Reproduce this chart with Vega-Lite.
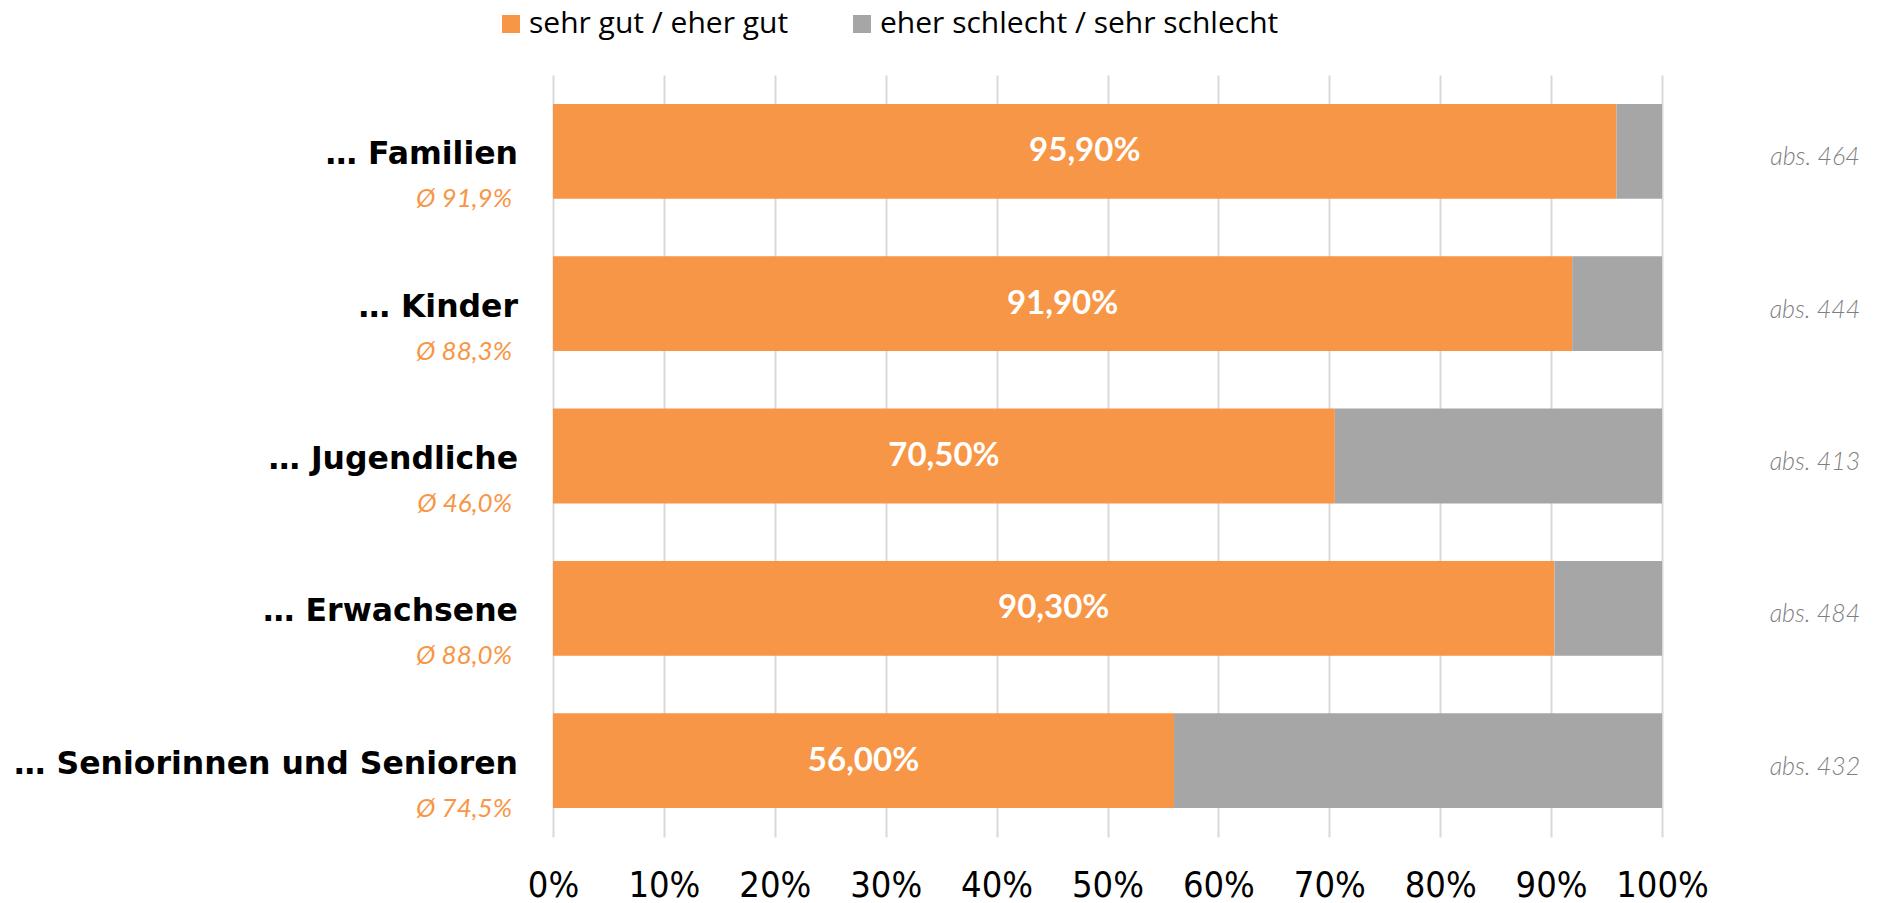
{
  "$schema": "https://vega.github.io/schema/vega-lite/v6.json",
  "width": 1109,
  "height": 762,
  "autosize": {"type": "none"},
  "padding": {"left": 553, "top": 75, "right": 227, "bottom": 66},
  "background": "white",
  "config": {
    "view": {"stroke": null},
    "locale": {"number": {"decimal": ",", "thousands": ".", "grouping": [3], "currency": ["", " €"]}}
  },
  "datasets": {
    "bars": [
      {"cat": "… Familien", "group": "sehr gut / eher gut", "ord": 1, "value": 0.959},
      {"cat": "… Familien", "group": "eher schlecht / sehr schlecht", "ord": 2, "value": 0.041},
      {"cat": "… Kinder", "group": "sehr gut / eher gut", "ord": 1, "value": 0.919},
      {"cat": "… Kinder", "group": "eher schlecht / sehr schlecht", "ord": 2, "value": 0.081},
      {"cat": "… Jugendliche", "group": "sehr gut / eher gut", "ord": 1, "value": 0.705},
      {"cat": "… Jugendliche", "group": "eher schlecht / sehr schlecht", "ord": 2, "value": 0.295},
      {"cat": "… Erwachsene", "group": "sehr gut / eher gut", "ord": 1, "value": 0.903},
      {"cat": "… Erwachsene", "group": "eher schlecht / sehr schlecht", "ord": 2, "value": 0.097},
      {"cat": "… Seniorinnen und Senioren", "group": "sehr gut / eher gut", "ord": 1, "value": 0.56},
      {"cat": "… Seniorinnen und Senioren", "group": "eher schlecht / sehr schlecht", "ord": 2, "value": 0.44}
    ],
    "cats": [
      {"cat": "… Familien", "good": 0.959, "avg": 0.919, "n": 464},
      {"cat": "… Kinder", "good": 0.919, "avg": 0.883, "n": 444},
      {"cat": "… Jugendliche", "good": 0.705, "avg": 0.46, "n": 413},
      {"cat": "… Erwachsene", "good": 0.903, "avg": 0.88, "n": 484},
      {"cat": "… Seniorinnen und Senioren", "good": 0.56, "avg": 0.745, "n": 432}
    ]
  },
  "layer": [
    {
      "data": {"name": "bars"},
      "mark": {"type": "bar"},
      "encoding": {
        "y": {
          "field": "cat", "type": "nominal",
          "sort": ["… Familien", "… Kinder", "… Jugendliche", "… Erwachsene", "… Seniorinnen und Senioren"],
          "scale": {"paddingInner": 0.378, "paddingOuter": 0.19},
          "axis": null
        },
        "x": {
          "field": "value", "type": "quantitative", "stack": "zero",
          "scale": {"domain": [0, 1], "nice": false},
          "axis": {
            "title": null, "format": ".0%",
            "values": [0, 0.1, 0.2, 0.3, 0.4, 0.5, 0.6, 0.7, 0.8, 0.9, 1],
            "grid": true, "gridColor": "#D9D9D9", "gridWidth": 2,
            "domain": false, "ticks": false, "labelFlush": false,
            "labelFont": "Liberation Sans Narrow, DejaVu Sans Condensed, sans-serif",
            "labelFontSize": 36, "labelColor": "#000000", "labelPadding": 31
          }
        },
        "color": {
          "field": "group", "type": "nominal",
          "scale": {"domain": ["sehr gut / eher gut", "eher schlecht / sehr schlecht"], "range": ["#F79646", "#A6A6A6"]},
          "legend": {
            "orient": "none", "legendX": -57, "legendY": -66, "direction": "horizontal",
            "title": null, "symbolType": "square", "symbolSize": 324, "symbolStrokeWidth": 0,
            "labelFont": "Open Sans", "labelFontSize": 30, "labelColor": "#000000",
            "labelOffset": 3, "columnPadding": 58, "labelLimit": 600
          }
        },
        "order": {"field": "ord", "type": "quantitative"}
      }
    },
    {
      "data": {"name": "cats"},
      "transform": [{"calculate": "datum.good / 2", "as": "mid"}],
      "mark": {"type": "text", "color": "#FFFFFF", "font": "Lato", "fontWeight": "bold", "fontSize": 33, "align": "center", "baseline": "middle"},
      "encoding": {
        "y": {"field": "cat", "type": "nominal", "sort": ["… Familien", "… Kinder", "… Jugendliche", "… Erwachsene", "… Seniorinnen und Senioren"]},
        "x": {"field": "mid", "type": "quantitative"},
        "text": {"field": "good", "type": "quantitative", "format": ".2%"}
      }
    },
    {
      "data": {"name": "cats"},
      "mark": {"type": "text", "color": "#000000", "font": "DejaVu Sans", "fontWeight": "bold", "fontSize": 31.5, "align": "right", "baseline": "alphabetic", "dx": -35, "dy": 13},
      "encoding": {
        "y": {"field": "cat", "type": "nominal", "sort": ["… Familien", "… Kinder", "… Jugendliche", "… Erwachsene", "… Seniorinnen und Senioren"]},
        "x": {"datum": 0, "type": "quantitative"},
        "text": {"field": "cat", "type": "nominal"}
      }
    },
    {
      "data": {"name": "cats"},
      "transform": [{"calculate": "'Ø ' + format(datum.avg, '.1%')", "as": "avgLabel"}],
      "mark": {"type": "text", "color": "#F79646", "font": "Lato", "fontWeight": "normal", "fontStyle": "italic", "fontSize": 26, "align": "right", "baseline": "alphabetic", "dx": -41, "dy": 56},
      "encoding": {
        "y": {"field": "cat", "type": "nominal", "sort": ["… Familien", "… Kinder", "… Jugendliche", "… Erwachsene", "… Seniorinnen und Senioren"]},
        "x": {"datum": 0, "type": "quantitative"},
        "text": {"field": "avgLabel", "type": "nominal"}
      }
    },
    {
      "data": {"name": "cats"},
      "transform": [{"calculate": "'abs. ' + datum.n", "as": "absLabel"}],
      "mark": {"type": "text", "color": "#7F7F7F", "font": "Lato", "fontWeight": 300, "fontStyle": "italic", "fontSize": 25, "align": "center", "baseline": "alphabetic", "dx": 153, "dy": 14},
      "encoding": {
        "y": {"field": "cat", "type": "nominal", "sort": ["… Familien", "… Kinder", "… Jugendliche", "… Erwachsene", "… Seniorinnen und Senioren"]},
        "x": {"datum": 1, "type": "quantitative"},
        "text": {"field": "absLabel", "type": "nominal"}
      }
    }
  ]
}
